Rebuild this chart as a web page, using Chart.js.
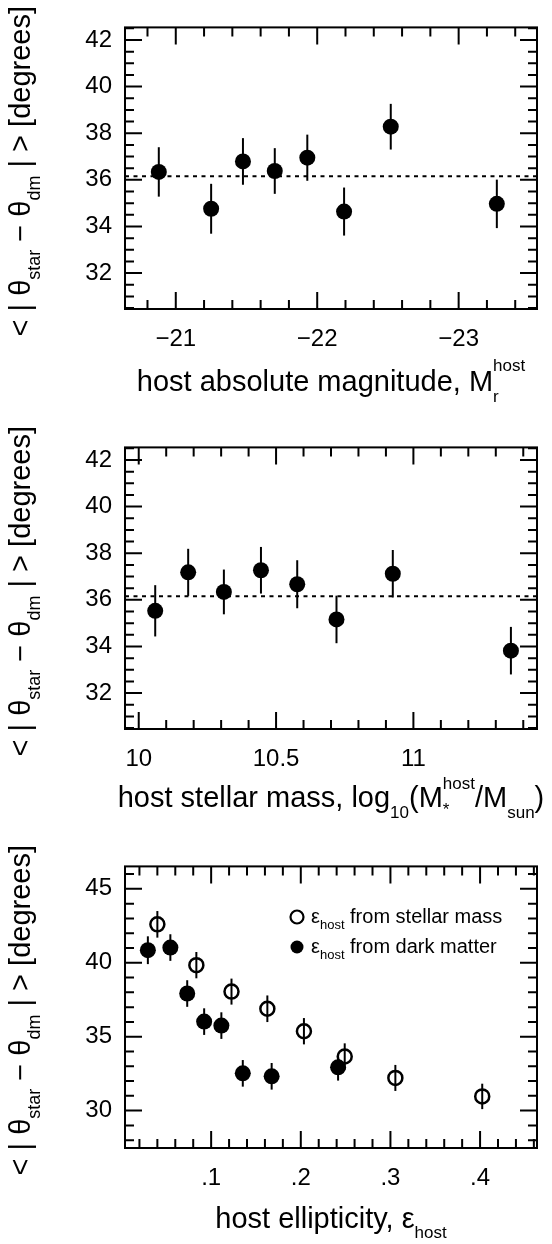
<!DOCTYPE html>
<html lang="en">
<head>
<meta charset="UTF-8">
<title>Star - dark matter misalignment vs host properties</title>
<script src="https://cdn.jsdelivr.net/npm/chart.js@4.4.1/dist/chart.umd.min.js"></script>
<style>
  body { margin: 0; background: #fff; }
  .panel { position: absolute; left: 0; width: 552px; height: 405px; }
</style>
</head>
<body>
<div class="panel" style="top:0"><canvas id="magChart"></canvas></div>
<div class="panel" style="top:420px"><canvas id="massChart"></canvas></div>
<div class="panel" style="top:839px"><canvas id="ellChart"></canvas></div>

<script>
const FONT = '"Liberation Sans", Arial, Helvetica, sans-serif';

// panel 1: host absolute magnitude bins
const magBins = [-20.88, -21.25, -21.475, -21.70, -21.93, -22.19, -22.52, -23.27];
const magOffset = [36.34, 34.76, 36.79, 36.38, 36.95, 34.64, 38.28, 34.97];
const magOffsetErr = [1.06, 1.07, 1.00, 0.98, 0.99, 1.03, 0.98, 1.04];
const magTicks = [-21, -22, -23];
const magTickLabels = ['−21', '−22', '−23'];

// panel 2: host stellar mass bins
const massBins = [10.06, 10.18, 10.31, 10.445, 10.577, 10.72, 10.925, 11.355];
const massOffset = [35.53, 37.18, 36.34, 37.27, 36.67, 35.16, 37.12, 33.82];
const massOffsetErr = [1.10, 1.01, 0.96, 1.00, 1.03, 1.02, 1.02, 1.02];
const massTicks = [10, 10.5, 11];
const massTickLabels = ['10', '10.5', '11'];

// average over all hosts (dotted line)
const meanOffset = 36.15;
const angleTicks = [32, 34, 36, 38, 40, 42];

// panel 3: host ellipticity, two estimators
const ellStarBins = [0.040, 0.0835, 0.1227, 0.1627, 0.2035, 0.249, 0.3055, 0.4024];
const ellStarOffset = [42.60, 39.84, 38.05, 36.89, 35.37, 33.66, 32.21, 30.96];
const ellStarErr = [0.90, 0.89, 0.88, 0.90, 0.89, 0.89, 0.88, 0.86];
const ellDmBins = [0.0294, 0.0545, 0.0733, 0.0922, 0.1114, 0.1353, 0.1675, 0.2416];
const ellDmOffset = [40.85, 41.03, 37.92, 36.02, 35.75, 32.52, 32.32, 32.93];
const ellDmErr = [0.94, 0.90, 0.90, 0.90, 0.90, 0.90, 0.90, 0.90];
const ellTicks = [0.1, 0.2, 0.3, 0.4];
const ellTickLabels = ['.1', '.2', '.3', '.4'];
const angleTicksEll = [30, 35, 40, 45];

const yTitle = [
  { t: '< | θ', s: 29 },
  { t: 'star', s: 18, dy: 10 },
  { t: ' − θ', s: 29 },
  { t: 'dm', s: 18, dy: 10 },
  { t: ' | > [degrees]', s: 29 }
];

function layoutParts(ctx, parts) {
  let x = 0, pending = 0;
  const items = [];
  parts.forEach(p => {
    ctx.font = p.s + 'px ' + FONT;
    const w = ctx.measureText(p.t).width;
    items.push({ ...p, x });
    if (p.keep) pending = Math.max(pending, w);
    else { x += Math.max(w, pending); pending = 0; }
  });
  return { items, width: x };
}

function drawRich(ctx, parts, x, y, rot, align) {
  ctx.save();
  ctx.translate(x, y);
  ctx.rotate(rot);
  ctx.fillStyle = '#000';
  ctx.textBaseline = 'alphabetic';
  ctx.textAlign = 'left';
  const L = layoutParts(ctx, parts);
  const x0 = align === 'center' ? -L.width / 2 : 0;
  L.items.forEach(p => {
    ctx.font = p.s + 'px ' + FONT;
    ctx.fillText(p.t, x0 + p.x, p.dy || 0);
  });
  ctx.restore();
}

function tickValues(scale, step) {
  const lo = Math.min(scale.min, scale.max), hi = Math.max(scale.min, scale.max);
  const out = [];
  for (let n = Math.ceil(lo / step - 1e-9); n <= Math.floor(hi / step + 1e-9); n++) out.push(n * step);
  return out;
}

const decor = {
  id: 'decor',
  beforeDatasetsDraw(chart, args, opts) {
    const ctx = chart.ctx, xs = chart.scales.x, ys = chart.scales.y;
    ctx.save();
    ctx.strokeStyle = '#000';
    ctx.lineWidth = 2;
    (opts.errors || []).forEach(e => {
      e.x.forEach((xv, i) => {
        const px = xs.getPixelForValue(xv);
        ctx.beginPath();
        ctx.moveTo(px, ys.getPixelForValue(e.y[i] - e.err[i]));
        ctx.lineTo(px, ys.getPixelForValue(e.y[i] + e.err[i]));
        ctx.stroke();
      });
    });
    ctx.restore();
  },
  afterDraw(chart, args, opts) {
    const ctx = chart.ctx, a = chart.chartArea, xs = chart.scales.x, ys = chart.scales.y;
    ctx.save();
    ctx.strokeStyle = '#000';
    ctx.lineWidth = 2;
    ctx.strokeRect(a.left, a.top, a.right - a.left, a.bottom - a.top);

    const isMajor = (v, majors, step) => majors.some(m => Math.abs(m - v) < step / 10);
    ctx.beginPath();
    tickValues(xs, opts.xMinor).forEach(v => {
      const px = xs.getPixelForValue(v);
      const len = isMajor(v, opts.xMajor, opts.xMinor) ? 17 : 9;
      ctx.moveTo(px, a.bottom); ctx.lineTo(px, a.bottom - len);
      ctx.moveTo(px, a.top); ctx.lineTo(px, a.top + len);
    });
    tickValues(ys, opts.yMinor).forEach(v => {
      const py = ys.getPixelForValue(v);
      const len = isMajor(v, opts.yMajor, opts.yMinor) ? 17 : 9;
      ctx.moveTo(a.left, py); ctx.lineTo(a.left + len, py);
      ctx.moveTo(a.right, py); ctx.lineTo(a.right - len, py);
    });
    ctx.stroke();
    ctx.restore();

    drawRich(ctx, opts.xTitle, (a.left + a.right) / 2, opts.xTitleY, 0, 'center');
    drawRich(ctx, yTitle, 30, (a.top + a.bottom) / 2 + 3, -Math.PI / 2, 'center');

    if (opts.legend) {
      opts.legend.forEach(row => {
        ctx.save();
        ctx.beginPath();
        ctx.arc(row.mx, row.my, 6.5, 0, Math.PI * 2);
        ctx.lineWidth = 2.2;
        ctx.strokeStyle = '#000';
        ctx.fillStyle = '#000';
        if (row.filled) ctx.fill(); else ctx.stroke();
        ctx.restore();
        drawRich(ctx, row.text, row.tx, row.ty, 0, 'left');
      });
    }
  }
};

function makeChart(id, cfg) {
  return new Chart(document.getElementById(id), {
    type: 'scatter',
    data: { datasets: cfg.datasets },
    options: {
      responsive: true,
      maintainAspectRatio: false,
      animation: false,
      events: [],
      layout: { padding: { top: 25, right: 15, bottom: 56, left: 0 } },
      plugins: { legend: { display: false }, tooltip: { enabled: false }, decor: cfg.decor },
      scales: {
        x: {
          type: 'linear', min: cfg.xMin, max: cfg.xMax, reverse: !!cfg.xReverse,
          afterBuildTicks: s => { s.ticks = cfg.xTicks.map(v => ({ value: v })); },
          afterFit: s => { s.height = 40; },
          grid: { display: false, drawTicks: false },
          border: { display: false },
          ticks: {
            autoSkip: false, maxRotation: 0, padding: 16, color: '#000',
            font: { family: FONT, size: 24 },
            callback: v => cfg.xLabels[cfg.xTicks.indexOf(v)]
          }
        },
        y: {
          type: 'linear', min: cfg.yMin, max: cfg.yMax,
          afterBuildTicks: s => { s.ticks = cfg.yTicks.map(v => ({ value: v })); },
          afterFit: s => { s.width = 125; },
          grid: { display: false, drawTicks: false },
          border: { display: false },
          ticks: {
            autoSkip: false, padding: 13, color: '#000',
            font: { family: FONT, size: 24 },
            callback: v => String(v)
          }
        }
      }
    },
    plugins: [decor]
  });
}

function points(xs, ys) {
  return xs.map((x, i) => ({ x: x, y: ys[i] }));
}

const magRange = [-23.554, -20.641];
makeChart('magChart', {
  xMin: magRange[0], xMax: magRange[1], xReverse: true,
  xTicks: magTicks, xLabels: magTickLabels,
  yMin: 30.46, yMax: 42.54, yTicks: angleTicks,
  datasets: [
    { data: points(magBins, magOffset), pointRadius: 8, backgroundColor: '#000', borderWidth: 0 },
    { data: [{ x: magRange[0], y: meanOffset }, { x: magRange[1], y: meanOffset }], showLine: true,
      borderColor: '#000', borderWidth: 2, borderDash: [4, 4.5], pointRadius: 0 }
  ],
  decor: {
    errors: [{ x: magBins, y: magOffset, err: magOffsetErr }],
    xMinor: 0.2, xMajor: magTicks, yMinor: 0.5, yMajor: angleTicks,
    xTitleY: 391,
    xTitle: [
      { t: 'host absolute magnitude, M', s: 29 },
      { t: 'r', s: 17, dy: 11, keep: true },
      { t: 'host', s: 17, dy: -20 }
    ]
  }
});

const massRange = [9.95, 11.45];
makeChart('massChart', {
  xMin: massRange[0], xMax: massRange[1],
  xTicks: massTicks, xLabels: massTickLabels,
  yMin: 30.46, yMax: 42.54, yTicks: angleTicks,
  datasets: [
    { data: points(massBins, massOffset), pointRadius: 8, backgroundColor: '#000', borderWidth: 0 },
    { data: [{ x: massRange[0], y: meanOffset }, { x: massRange[1], y: meanOffset }], showLine: true,
      borderColor: '#000', borderWidth: 2, borderDash: [4, 4.5], pointRadius: 0 }
  ],
  decor: {
    errors: [{ x: massBins, y: massOffset, err: massOffsetErr }],
    xMinor: 0.1, xMajor: massTicks, yMinor: 0.5, yMajor: angleTicks,
    xTitleY: 387,
    xTitle: [
      { t: 'host stellar mass, log', s: 29 },
      { t: '10', s: 17, dy: 11 },
      { t: '(M', s: 29 },
      { t: '*', s: 17, dy: 8, keep: true },
      { t: 'host', s: 17, dy: -18 },
      { t: '/M', s: 29 },
      { t: 'sun', s: 17, dy: 11 },
      { t: ')', s: 29 }
    ]
  }
});

makeChart('ellChart', {
  xMin: 0.0039, xMax: 0.4635,
  xTicks: ellTicks, xLabels: ellTickLabels,
  yMin: 27.47, yMax: 46.52, yTicks: angleTicksEll,
  datasets: [
    { data: points(ellStarBins, ellStarOffset), pointRadius: 7, backgroundColor: 'rgba(0,0,0,0)',
      borderColor: '#000', borderWidth: 2.5 },
    { data: points(ellDmBins, ellDmOffset), pointRadius: 8, backgroundColor: '#000', borderWidth: 0 }
  ],
  decor: {
    errors: [
      { x: ellStarBins, y: ellStarOffset, err: ellStarErr },
      { x: ellDmBins, y: ellDmOffset, err: ellDmErr }
    ],
    xMinor: 0.02, xMajor: ellTicks, yMinor: 1, yMajor: angleTicksEll,
    xTitleY: 389,
    xTitle: [
      { t: 'host ellipticity, ε', s: 29 },
      { t: 'host', s: 17, dy: 10 }
    ],
    legend: [
      { filled: false, mx: 297, my: 78, tx: 311, ty: 84,
        text: [{ t: 'ε', s: 20 }, { t: 'host', s: 13, dy: 6 }, { t: ' from stellar mass', s: 20 }] },
      { filled: true, mx: 297, my: 108, tx: 311, ty: 114,
        text: [{ t: 'ε', s: 20 }, { t: 'host', s: 13, dy: 6 }, { t: ' from dark matter', s: 20 }] }
    ]
  }
});
</script>
</body>
</html>
